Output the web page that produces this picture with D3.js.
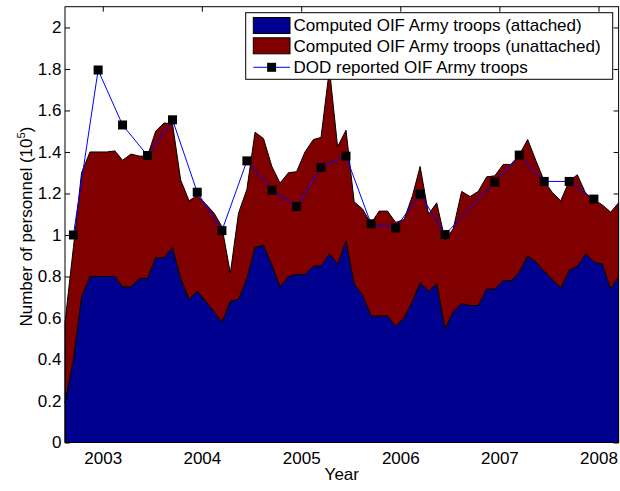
<!DOCTYPE html>
<html><head><meta charset="utf-8">
<script src="https://cdn.jsdelivr.net/npm/d3@7"></script>
<style>
body{margin:0;background:#fff}
text{font-family:"Liberation Sans",Arial,Helvetica,sans-serif;fill:#000}
</style>
</head><body><svg id="c" width="620" height="491"></svg>
<script>
// ---- data (personnel, units of 10^5) ----
const firstMonth = "2002-08";
const lastMonth = "2008-03";
const attached = [
 0.19,0.40,0.70,0.80,0.80,0.80,0.80,0.75,0.75,0.79,0.79,0.89,0.89,0.94,0.79,0.69,
 0.73,0.68,0.63,0.58,0.68,0.69,0.79,0.94,0.95,0.855,0.75,0.80,0.81,0.81,0.85,0.85,
 0.91,0.86,0.97,0.765,0.71,0.61,0.61,0.61,0.56,0.60,0.68,0.77,0.73,0.765,0.55,0.63,
 0.67,0.66,0.66,0.74,0.74,0.78,0.78,0.82,0.90,0.87,0.825,0.785,0.745,0.83,0.85,0.91,
 0.87,0.86,0.74,0.80];
const unattached = [
 0.39,0.54,0.60,0.60,0.60,0.60,0.605,0.61,0.64,0.59,0.59,0.61,0.65,0.595,0.475,0.475,
 0.46,0.47,0.475,0.46,0.135,0.415,0.43,0.555,0.515,0.475,0.50,0.50,0.495,0.59,0.61,0.62,
 0.89,0.565,0.535,0.395,0.415,0.445,0.505,0.505,0.50,0.475,0.51,0.56,0.37,0.39,0.425,0.40,
 0.54,0.525,0.55,0.54,0.545,0.56,0.56,0.565,0.56,0.49,0.435,0.42,0.42,0.43,0.44,0.29,
 0.30,0.285,0.37,0.355];
const dodMonths = ["2002-09","2002-12","2003-03","2003-06","2003-09","2003-12","2004-03",
 "2004-06","2004-09","2004-12","2005-03","2005-06","2005-09","2005-12","2006-03","2006-06",
 "2006-12","2007-03","2007-06","2007-09","2007-12"];
const dodValues = [1.00,1.795,1.53,1.383,1.555,1.206,1.021,1.357,1.216,1.137,1.325,1.38,
 1.054,1.034,1.197,1.002,1.255,1.385,1.258,1.258,1.173];
const yTicks = [0,0.2,0.4,0.6,0.8,1,1.2,1.4,1.6,1.8,2];
const xTickYears = [2003,2004,2005,2006,2007,2008];
const seriesNames = ["Computed OIF Army troops (attached)","Computed OIF Army troops (unattached)","DOD reported OIF Army troops"];
const colors = ["#00008F","#800000","#0000FF"];

// ---- setup ----
const svg = d3.select("#c");
svg.append("rect").attr("width",620).attr("height",491).attr("fill","#fff");
const L=65, R=618.6, T=6.7, B=442.5;
const parse = d3.timeParse("%Y-%m");
const months = d3.timeMonth.range(parse(firstMonth), d3.timeMonth.offset(parse(lastMonth),1)).map(d=>d3.timeDay.offset(d,14));
const x = d3.scaleTime().domain([months[0], months[months.length-1]]).range([L,R]);
const y = d3.scaleLinear().domain([0,2.1]).range([B,T]);
const FS = 17;

// ticks (under the areas)
const xt = xTickYears.map(v=>new Date(v,0,1));
const gx = svg.append("g").attr("transform",`translate(0,${B})`)
  .call(d3.axisBottom(x).tickValues(xt).tickFormat(d3.timeFormat("%Y")).tickSizeInner(-5).tickSizeOuter(0).tickPadding(9.5));
const gxt = svg.append("g").attr("transform",`translate(0,${T})`)
  .call(d3.axisTop(x).tickValues(xt).tickFormat("").tickSizeInner(-5).tickSizeOuter(0));
const gy = svg.append("g").attr("transform",`translate(${L},0)`)
  .call(d3.axisLeft(y).tickValues(yTicks).tickFormat(d3.format("~g")).tickSizeInner(-5).tickSizeOuter(0).tickPadding(3.5));
const gyr = svg.append("g").attr("transform",`translate(${R},0)`)
  .call(d3.axisRight(y).tickValues(yTicks).tickFormat("").tickSizeInner(-5).tickSizeOuter(0));
[gx,gxt,gy,gyr].forEach(g=>{
  g.select(".domain").remove();
  g.selectAll("line").attr("stroke","#000");
  g.selectAll("text").attr("font-size",FS).attr("fill","#000").style("font-family",'"Liberation Sans",Arial,sans-serif');
});

// stacked areas
const rows = months.map((d,i)=>({date:d, attached:attached[i], unattached:unattached[i]}));
const stack = d3.stack().keys(["attached","unattached"])(rows);
const area = d3.area().x(d=>x(d.data.date)).y0(d=>y(d[0])).y1(d=>y(d[1]));
svg.append("g").selectAll("path").data(stack).join("path")
  .attr("d",area).attr("fill",(d,i)=>colors[i]).attr("stroke","#000").attr("stroke-width",1)
  .attr("stroke-linejoin","miter");

// DOD line + markers
const dod = dodMonths.map((m,i)=>({date:d3.timeDay.offset(parse(m),14), v:dodValues[i]}));
svg.append("path").datum(dod)
  .attr("d",d3.line().x(d=>x(d.date)).y(d=>y(d.v)))
  .attr("fill","none").attr("stroke",colors[2]).attr("stroke-width",1);
svg.append("g").selectAll("rect").data(dod).join("rect")
  .attr("x",d=>x(d.date)-4.5).attr("y",d=>y(d.v)-4.5).attr("width",9).attr("height",9).attr("fill","#000");

// box
svg.append("rect").attr("x",L).attr("y",T).attr("width",R-L).attr("height",B-T)
  .attr("fill","none").attr("stroke","#000").attr("stroke-width",1);

// axis titles
svg.append("text").attr("x",(L+R)/2).attr("y",480).attr("text-anchor","middle").attr("font-size",FS).text("Year");
const yl = svg.append("text").attr("transform",`translate(31.5,${(T+B)/2+2}) rotate(-90)`).attr("text-anchor","middle").attr("font-size",FS);
yl.append("tspan").text("Number of personnel (10");
yl.append("tspan").attr("font-size",11).attr("dy",-7).text("5");
yl.append("tspan").attr("dy",7).text(")");

// legend
const lg = svg.append("g");
lg.append("rect").attr("x",245.7).attr("y",12.7).attr("width",367).attr("height",66.6)
  .attr("fill","#fff").attr("stroke","#000").attr("stroke-width",1);
const rowY = [25.5,45.8,67.3];
[0,1].forEach(i=>{
  lg.append("rect").attr("x",253.3).attr("y",rowY[i]-8).attr("width",36.7).attr("height",16)
    .attr("fill",colors[i]).attr("stroke","#000").attr("stroke-width",1);
});
lg.append("line").attr("x1",253.3).attr("x2",290).attr("y1",rowY[2]).attr("y2",rowY[2]).attr("stroke",colors[2]).attr("stroke-width",1);
lg.append("rect").attr("x",271.6-4.5).attr("y",rowY[2]-4.5).attr("width",9).attr("height",9).attr("fill","#000");
seriesNames.forEach((n,i)=>{
  lg.append("text").attr("x",293.5).attr("y",rowY[i]).attr("dy","0.35em").attr("font-size",FS).text(n);
});
</script>
</body></html>
